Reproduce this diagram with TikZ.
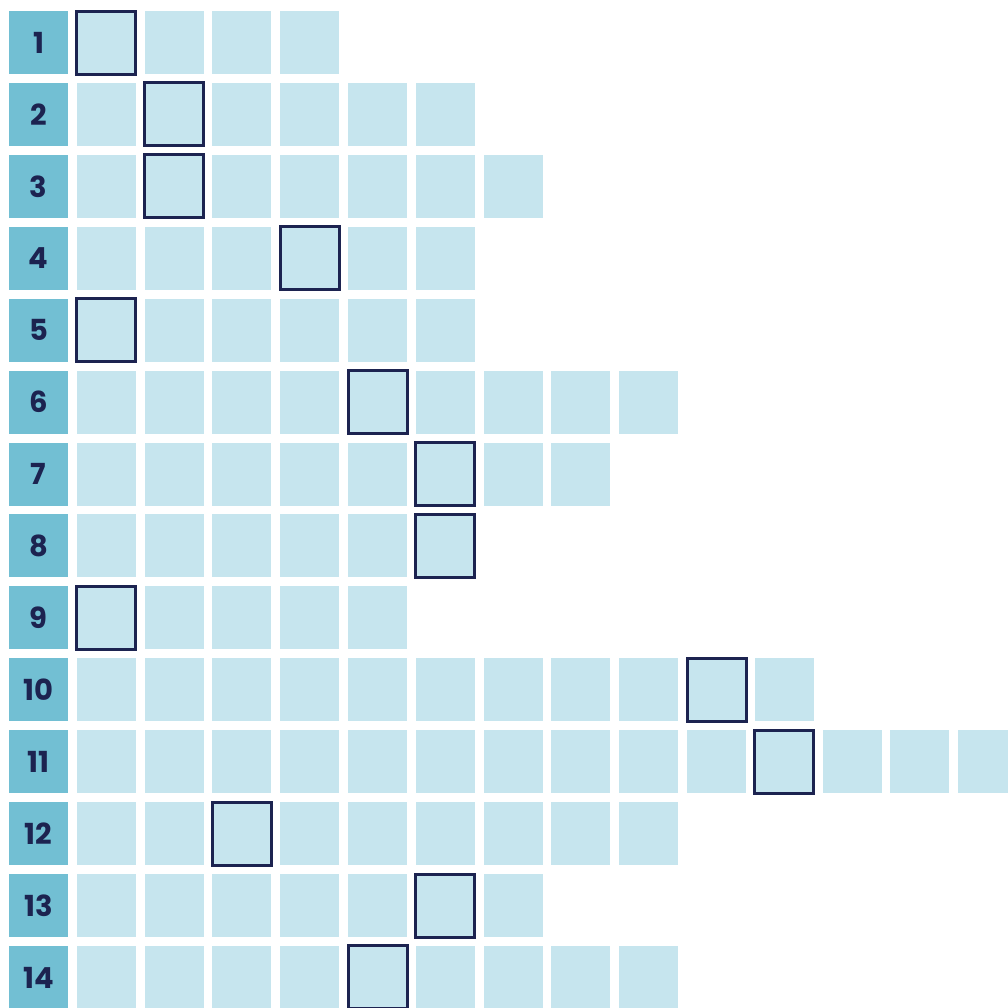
\documentclass[tikz,border=0pt]{standalone}
\usepackage{fontspec}
\setmainfont{Poppins}
\definecolor{rowteal}{HTML}{72BFD3}
\definecolor{cellblue}{HTML}{C6E5EE}
\definecolor{inknavy}{HTML}{1C2350}
\tikzset{
  numcell/.style={fill=rowteal,minimum width=59pt,minimum height=63pt,inner sep=0pt,
    text=inknavy,font=\bfseries\fontsize{29}{29}\selectfont},
  lettercell/.style={fill=cellblue,minimum width=59pt,minimum height=63pt,inner sep=0pt},
  keycell/.style={lettercell,draw=inknavy,line width=3pt}
}
\begin{document}
\begin{tikzpicture}[x=1pt,y=-1pt]
  \useasboundingbox (0,0) rectangle (1008,1007);
  \clip (0,0) rectangle (1008,1007);
  \fill[white] (0,0) rectangle (1008,1007);
  \foreach \r/\n/\b in {1/4/1,2/6/2,3/7/2,4/6/4,5/6/1,6/9/5,7/8/6,8/6/6,9/5/1,
                        10/11/10,11/14/11,12/9/3,13/7/6,14/9/5}{
    \node[numcell] (num\r) at (38.5,{42.5+71.92*(\r-1)}) {\r};
    \foreach \k in {1,...,\n}{
      \ifnum\k=\b
        \node[keycell] (c\r-\k) at ({38.5+67.8*\k},{42.5+71.92*(\r-1)}) {};
      \else
        \node[lettercell] (c\r-\k) at ({38.5+67.8*\k},{42.5+71.92*(\r-1)}) {};
      \fi
    }
  }
\end{tikzpicture}
\end{document}
